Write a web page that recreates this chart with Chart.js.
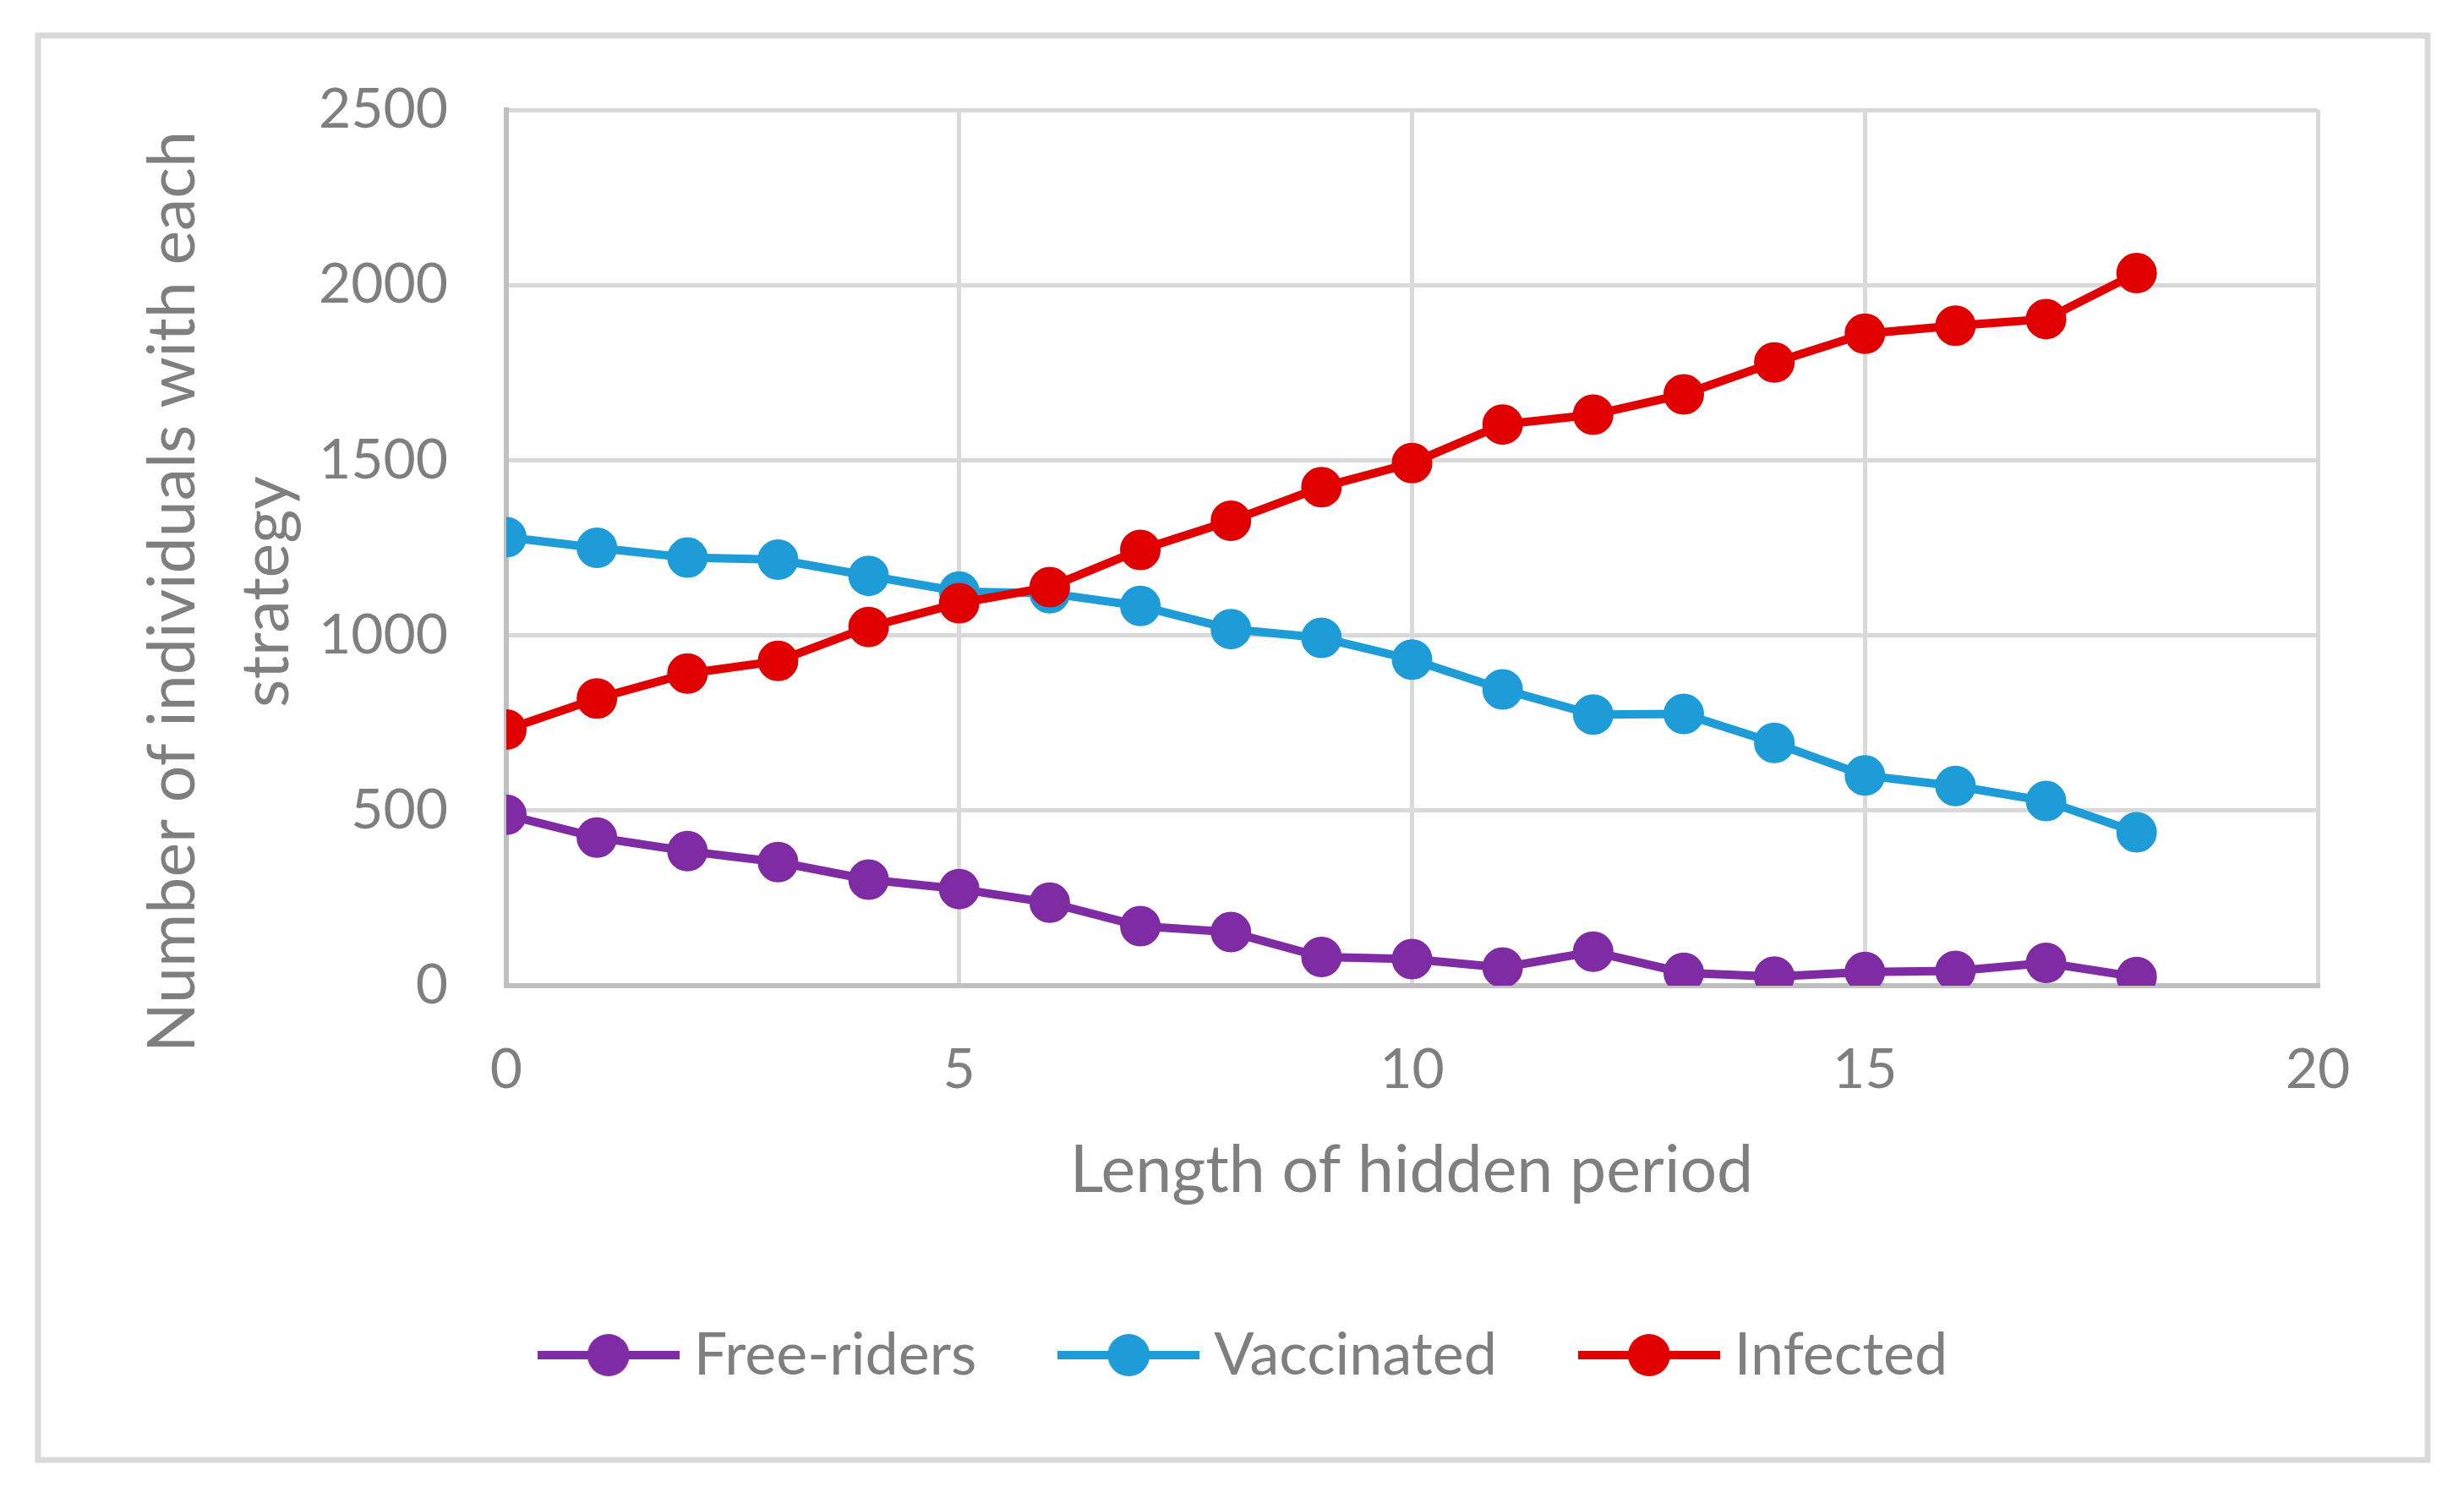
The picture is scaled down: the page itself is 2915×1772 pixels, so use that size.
<!DOCTYPE html>
<html>
<head>
<meta charset="utf-8">
<script src="https://cdn.jsdelivr.net/npm/chart.js@4.4.1/dist/chart.umd.min.js"></script>
<style>
  html, body { margin: 0; padding: 0; background: #fff; }
  #wrap { position: relative; width: 2915px; height: 1772px; }
</style>
</head>
<body>
<div id="wrap"><canvas id="chart"></canvas></div>
<script>
// values
const hiddenPeriod = [0, 1, 2, 3, 4, 5, 6, 7, 8, 9, 10, 11, 12, 13, 14, 15, 16, 17, 18];
const freeRiders = [488, 423, 384, 353, 303, 276, 237, 170, 153, 82, 76, 52, 97, 37, 26, 39, 42, 65, 25];
const vaccinated = [1280, 1250, 1222, 1216, 1170, 1125, 1120, 1084, 1018, 993, 931, 846, 774, 776, 693, 600, 570, 527, 438];
const infected = [731, 820, 891, 927, 1024, 1092, 1138, 1244, 1327, 1423, 1492, 1602, 1630, 1688, 1779, 1861, 1884, 1903, 2034];
const seriesNames = ['Free-riders', 'Vaccinated', 'Infected'];
const seriesColors = ['#7F2BA3', '#1E9CD8', '#E00000'];
const xTicks = [0, 5, 10, 15, 20];
const yTicks = [0, 500, 1000, 1500, 2000, 2500];
const xTitle = 'Length of hidden period';
const yTitle = ['Number of individuals with each', 'strategy'];

const TEXT = '#7F7F7F';
const FONT = 'Lato, "Open Sans", sans-serif';

// legend symbol: short line with a marker in the middle
function legendSymbol(color) {
  const c = document.createElement('canvas');
  c.width = 168; c.height = 54;
  const g = c.getContext('2d');
  g.strokeStyle = color; g.lineWidth = 10;
  g.beginPath(); g.moveTo(0, 27); g.lineTo(168, 27); g.stroke();
  g.fillStyle = color;
  g.beginPath(); g.arc(84, 27, 25, 0, Math.PI * 2); g.fill();
  return c;
}

function toPoints(vals) {
  return vals.map((v, i) => ({ x: hiddenPeriod[i], y: v }));
}

const allSeries = [freeRiders, vaccinated, infected];
const datasets = allSeries.map((vals, i) => ({
  label: seriesNames[i],
  data: toPoints(vals),
  order: allSeries.length - i, // later series on top, like the original
  borderColor: seriesColors[i],
  backgroundColor: seriesColors[i],
  borderWidth: 10,
  pointRadius: 23,
  pointBorderWidth: 2,
  pointBackgroundColor: seriesColors[i],
  pointBorderColor: seriesColors[i],
  legendImg: legendSymbol(seriesColors[i]),
  tension: 0
}));

const frame = {
  id: 'frame',
  beforeDraw(chart) {
    const ctx = chart.ctx;
    ctx.save();
    ctx.fillStyle = '#fff';
    ctx.fillRect(0, 0, chart.width, chart.height);
    ctx.strokeStyle = '#D9D9D9';
    ctx.lineWidth = 7;
    ctx.strokeRect(45, 42, 2827, 1685);
    ctx.restore();
  },
  afterLayout(chart) {
    // the original legend is centred on the whole frame, not the plot
    chart.legend.left += 108;
    chart.legend.right += 108;
  },
  afterDraw(chart) {
    const ctx = chart.ctx;
    ctx.save();
    ctx.fillStyle = TEXT;
    ctx.font = '77px ' + FONT;
    ctx.textAlign = 'center';
    ctx.textBaseline = 'middle';
    ctx.fillText(xTitle, 1670, 1385);
    ctx.translate(205, 700);
    ctx.rotate(-Math.PI / 2);
    ctx.fillText(yTitle[0], 0, 0);
    ctx.fillText(yTitle[1], 0, 111);
    ctx.restore();
  }
};

new Chart(document.getElementById('chart'), {
  type: 'line',
  data: { datasets },
  options: {
    responsive: true,
    maintainAspectRatio: false,
    animation: false,
    devicePixelRatio: 1,
    layout: { padding: { left: 0, top: 130, right: 173, bottom: 124 } },
    plugins: {
      tooltip: { enabled: false },
      legend: {
        position: 'bottom',
        labels: {
          usePointStyle: true,
          pointStyleWidth: 132,
          padding: 114,
          color: TEXT,
          font: { family: FONT, size: 70 },
          generateLabels(chart) {
            return chart.data.datasets.map((d, i) => ({
              text: d.label,
              pointStyle: d.legendImg,
              fillStyle: d.borderColor,
              strokeStyle: d.borderColor,
              lineWidth: 0,
              fontColor: TEXT,
              datasetIndex: i
            }));
          }
        }
      }
    },
    scales: {
      x: {
        type: 'linear',
        min: 0, max: 20,
        afterBuildTicks(s) { s.ticks = xTicks.map(v => ({ value: v })); },
        afterFit(s) { s.height = 288; },
        ticks: { color: TEXT, font: { family: FONT, size: 66 }, padding: 60, callback: v => String(v) },
        grid: { color: '#D9D9D9', lineWidth: 5, drawTicks: false },
        border: { color: '#BFBFBF', width: 6 }
      },
      y: {
        type: 'linear',
        min: 0, max: 2500,
        afterBuildTicks(s) { s.ticks = yTicks.map(v => ({ value: v })); },
        afterFit(s) { s.width = 599; },
        ticks: { color: TEXT, font: { family: FONT, size: 66 }, padding: 69, callback: v => String(v) },
        grid: { color: '#D9D9D9', lineWidth: 5, drawTicks: false },
        border: { color: '#BFBFBF', width: 6 }
      }
    }
  },
  plugins: [frame]
});
</script>
</body>
</html>
